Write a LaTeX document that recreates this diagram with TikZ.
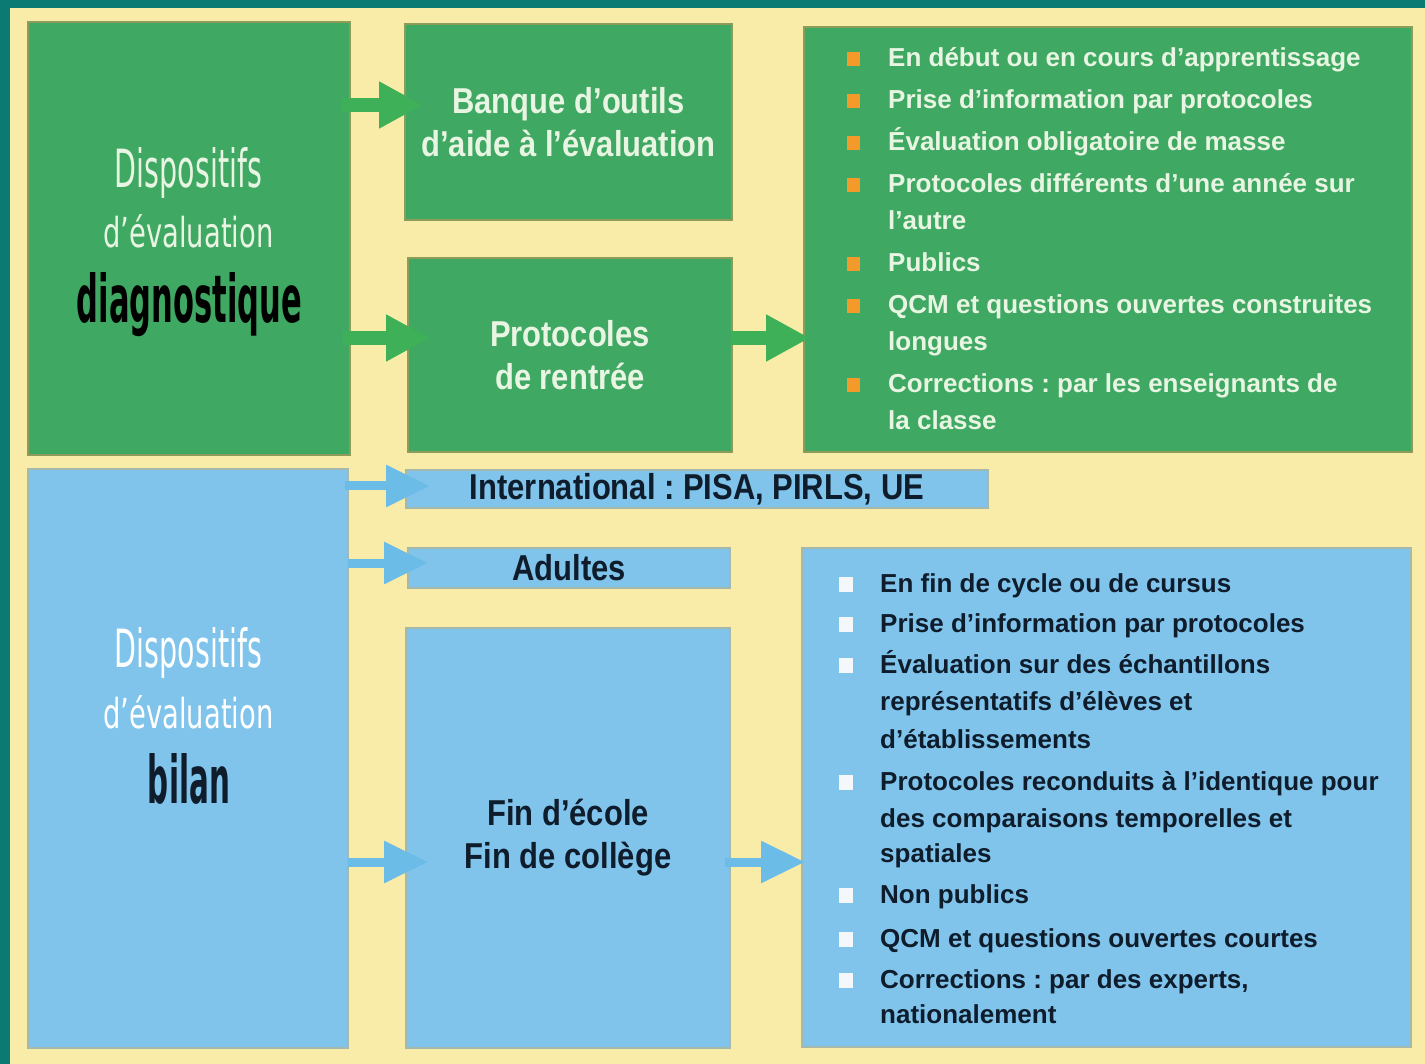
\documentclass[tikz,border=0pt]{standalone}
\usepackage{fontspec}
\usepackage{graphicx}
\usetikzlibrary{arrows.meta}
\frenchspacing
\newfontfamily\tfont[FakeStretch=0.86]{Liberation Sans}
\newfontfamily\lfont{Liberation Sans}
\newfontfamily\dfont{DejaVu Sans}
\definecolor{tealbg}{HTML}{0B7A72}
\definecolor{cream}{HTML}{F8ECA8}
\definecolor{boxgreen}{HTML}{3FA862}
\definecolor{boxblue}{HTML}{80C4EC}
\definecolor{greenedge}{HTML}{8E9C5A}
\definecolor{blueedge}{HTML}{A4B8AC}
\definecolor{arrgreen}{HTML}{3DB058}
\definecolor{arrblue}{HTML}{6CBCE8}
\definecolor{lighttext}{HTML}{E8F5E2}
\definecolor{darktext}{HTML}{0E1C2B}
\definecolor{bulorange}{HTML}{F39A2A}
\definecolor{bulwhite}{HTML}{F4F8FB}
\begin{document}
\begin{tikzpicture}[x=1pt,y=-1pt,
  box/.style={anchor=north west, inner sep=0pt, outer sep=0pt, line width=1.5pt, align=center},
  gbox/.style={box, fill=boxgreen, draw=greenedge, text=lighttext},
  bbox/.style={box, fill=boxblue, draw=blueedge, text=darktext},
  title/.style={font=\tfont\bfseries\fontsize{36pt}{43pt}\selectfont},
  litem/.style={anchor=base west, inner sep=0pt, font=\lfont\bfseries\fontsize{26pt}{30pt}\selectfont},
  glitem/.style={litem, text=lighttext},
  blitem/.style={litem, text=darktext},
  gbul/.style={fill=bulorange, minimum width=13pt, minimum height=14pt, inner sep=0pt},
  bbul/.style={fill=bulwhite, minimum width=14pt, minimum height=15pt, inner sep=0pt},
  disp/.style={anchor=base, inner sep=0pt},
  garrow/.style={draw=arrgreen, line width=14pt, -{Triangle[length=44pt,width=44pt]}},
  barrow/.style={draw=arrblue, line width=9pt, -{Triangle[length=44pt,width=40pt]}}
]
\useasboundingbox (0,0) rectangle (1425,1064);
\fill[tealbg] (0,0) rectangle (1425,1064);
\fill[cream] (10,8) rectangle (1425,1064);

% green part
\node[gbox, minimum width=322pt, minimum height=433pt] (ldiag) at (28,22) {};
\node[gbox, title, minimum width=327pt, minimum height=196pt] (banque) at (405,24) {Banque d’outils\\d’aide à l’évaluation};
\node[gbox, title, minimum width=324pt, minimum height=194pt] (rentree) at (408,258) {Protocoles\\de rentrée};
\node[gbox, minimum width=608pt, minimum height=425pt] (glist) at (804,27) {};

% blue part
\node[bbox, minimum width=320pt, minimum height=579pt] (lbilan) at (28,469) {};
\node[bbox, title, minimum width=582pt, minimum height=38pt] (intl) at (406,470) {International : PISA, PIRLS, UE};
\node[bbox, title, minimum width=322pt, minimum height=40pt] (adultes) at (408,548) {Adultes};
\node[bbox, title, minimum width=324pt, minimum height=420pt] (fin) at (406,628) {Fin d’école\\Fin de collège};
\node[bbox, minimum width=609pt, minimum height=499pt] (blist) at (802,548) {};

% display titles
\node[disp, text=lighttext] (dg1) at (188.5,188) {\resizebox{147pt}{40pt}{\dfont Dispositifs}};
\node[disp, text=lighttext] (dg2) at (188.5,248) {\resizebox{170pt}{33pt}{\dfont d’évaluation}};
\node[disp, text=black] (dg3) at (189.5,323) {\resizebox{225pt}{50pt}{\dfont\bfseries diagnostique}};
\node[disp, text=white] (db1) at (188.5,667) {\resizebox{147pt}{40pt}{\dfont Dispositifs}};
\node[disp, text=white] (db2) at (188.5,728) {\resizebox{170pt}{33pt}{\dfont d’évaluation}};
\node[disp, text=darktext] (db3) at (189,803) {\resizebox{82pt}{50pt}{\dfont\bfseries bilan}};

% green list
\foreach \yy/\tt [count=\i] in {67/{En début ou en cours d’apprentissage},109/{Prise d’information par protocoles},151/{Évaluation obligatoire de masse},193/{Protocoles différents d’une année sur},230/{l’autre},272/{Publics},314/{QCM et questions ouvertes construites},351/{longues},393/{Corrections : par les enseignants de},430/{la classe}}
  \node[glitem] (g\i) at (888,\yy) {\tt};
\foreach \yy [count=\i] in {67,109,151,193,272,314,393}
  \node[gbul] (gb\i) at (853,\yy-8) {};

% blue list
\foreach \yy/\tt [count=\i] in {592/{En fin de cycle ou de cursus},632/{Prise d’information par protocoles},673/{Évaluation sur des échantillons},710/{représentatifs d’élèves et},748/{d’établissements},790/{Protocoles reconduits à l’identique pour},827/{des comparaisons temporelles et},862/{spatiales},903/{Non publics},947/{QCM et questions ouvertes courtes},988/{Corrections : par des experts,},1023/{nationalement}}
  \node[blitem] (b\i) at (880,\yy) {\tt};
\foreach \yy [count=\i] in {592,632,673,790,903,947,988}
  \node[bbul] (bb\i) at (846,\yy-8) {};

% arrows
\coordinate (ya) at (0,105);
\coordinate (yb) at (0,338);
\coordinate (yc) at (0,486);
\coordinate (yd) at (0,563);
\coordinate (ye) at (0,862);
\draw[garrow] ([xshift=-8pt]ldiag.east |- ya) -- ([xshift=18pt]banque.west |- ya);
\draw[garrow] ([xshift=-7pt]ldiag.east |- yb) -- ([xshift=22pt]rentree.west |- yb);
\draw[garrow] ([xshift=-1pt]rentree.east |- yb) -- ([xshift=6pt]glist.west |- yb);
\draw[barrow] ([xshift=-3pt]lbilan.east |- yc) -- ([xshift=24pt]intl.west |- yc);
\draw[barrow] ([xshift=0pt]lbilan.east |- yd) -- ([xshift=20pt]adultes.west |- yd);
\draw[barrow] ([xshift=0pt]lbilan.east |- ye) -- ([xshift=22pt]fin.west |- ye);
\draw[barrow] ([xshift=-5pt]fin.east |- ye) -- ([xshift=3pt]blist.west |- ye);
\end{tikzpicture}
\end{document}
